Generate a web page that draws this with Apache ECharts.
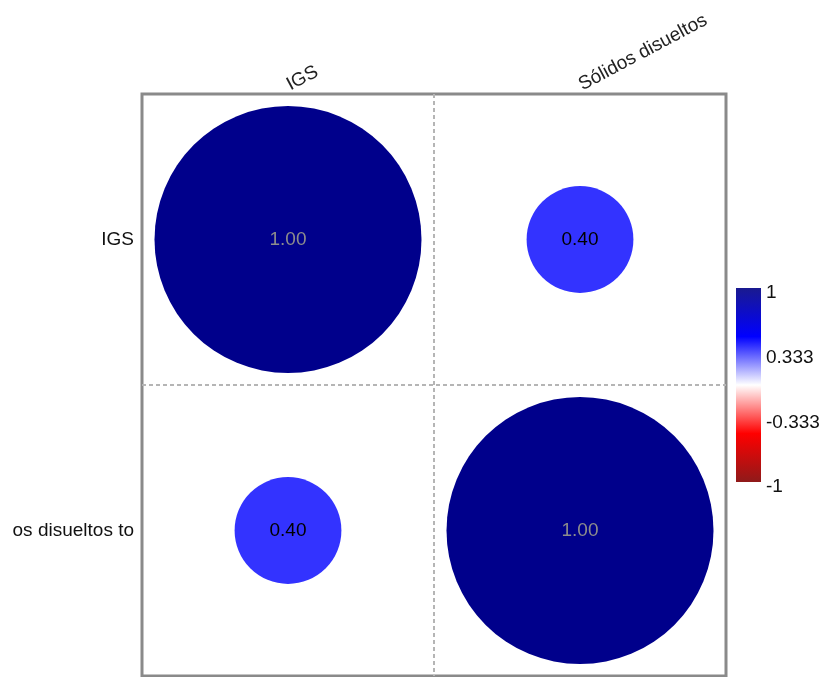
<!DOCTYPE html>
<html>
<head>
<meta charset="utf-8">
<script src="https://cdn.jsdelivr.net/npm/echarts@6/dist/echarts.min.js"></script>
<style>html,body{margin:0;padding:0;background:#fff;}#c{width:824px;height:677px;}</style>
</head>
<body>
<div id="c"></div>
<script>
// --- data ---
const xLabels = ['IGS', 'Sólidos disueltos'];
const yLabels = ['IGS', 'os disueltos to'];
const corrRows = [
  [1.00, 0.40],
  [0.40, 1.00]
];
const colorbarTicks = [1, 0.333, -0.333, -1];
const palette = ['#8B0000', '#FF0000', '#FFFFFF', '#0000FF', '#00008B'];

const points = [];
corrRows.forEach((row, yi) => row.forEach((v, xi) => {
  points.push({
    value: [xi, yi, v],
    label: { color: Math.abs(v) > 0.8 ? '#8c8c8c' : '#000000' }
  });
}));

const chart = echarts.init(document.getElementById('c'), null, { renderer: 'canvas' });
const FONT = 'Liberation Sans, Arial, sans-serif';
const splitStyle = { color: '#b5b5b5', type: [4, 3], width: 2 };
chart.setOption({
  animation: false,
  backgroundColor: '#ffffff',
  grid: [
    { left: 142, top: 94, width: 584, height: 582, show: true, borderColor: '#8a8a8a', borderWidth: 3, backgroundColor: 'transparent' },
    { left: 736, top: 288, width: 25, height: 194 }
  ],
  xAxis: [
    {
      type: 'category', gridIndex: 0, data: xLabels, position: 'top', boundaryGap: true,
      axisLine: { show: false }, axisTick: { show: false },
      axisLabel: { rotate: -28, margin: 8, fontSize: 19, color: '#222', fontFamily: FONT, interval: 0 },
      splitLine: { show: true, interval: 0, showMinLine: false, showMaxLine: false, lineStyle: splitStyle }
    },
    { type: 'category', gridIndex: 1, data: ['cb'], show: false }
  ],
  yAxis: [
    {
      type: 'category', gridIndex: 0, data: yLabels, inverse: true, boundaryGap: true,
      axisLine: { show: false }, axisTick: { show: false },
      axisLabel: { margin: 8, fontSize: 19, color: '#111', fontFamily: FONT, interval: 0 },
      splitLine: { show: true, interval: 0, showMinLine: false, showMaxLine: false, lineStyle: splitStyle }
    },
    {
      type: 'value', gridIndex: 1, min: -1, max: 1, position: 'right',
      axisLine: { show: false }, axisTick: { show: false }, splitLine: { show: false },
      axisLabel: {
        customValues: colorbarTicks, margin: 5, fontSize: 19, color: '#111', fontFamily: FONT,
        verticalAlign: 'top', lineHeight: 10,
        formatter: v => String(v)
      }
    }
  ],
  visualMap: {
    show: false, type: 'continuous', seriesIndex: 0, dimension: 2,
    min: -1, max: 1, inRange: { color: palette }
  },
  series: [
    {
      type: 'scatter', xAxisIndex: 0, yAxisIndex: 0,
      data: points,
      symbol: 'circle',
      symbolSize: v => Math.abs(v[2]) * 267,
      itemStyle: { opacity: 1 },
      label: {
        show: true, position: 'inside', fontSize: 19, fontFamily: FONT,
        formatter: p => p.value[2].toFixed(2)
      }
    },
    {
      type: 'bar', xAxisIndex: 1, yAxisIndex: 1, stack: 'cb', barWidth: '100%',
      data: [1], silent: true,
      itemStyle: { color: new echarts.graphic.LinearGradient(0, 0, 0, 1, [
        { offset: 0, color: '#1a1a8f' }, { offset: 0.5, color: palette[3] }, { offset: 1, color: palette[2] }
      ]) }
    },
    {
      type: 'bar', xAxisIndex: 1, yAxisIndex: 1, stack: 'cb', barWidth: '100%',
      data: [-1], silent: true,
      itemStyle: { color: new echarts.graphic.LinearGradient(0, 0, 0, 1, [
        { offset: 0, color: palette[2] }, { offset: 0.5, color: palette[1] }, { offset: 1, color: '#8f1a1a' }
      ]) }
    }
  ]
});
</script>
</body>
</html>
